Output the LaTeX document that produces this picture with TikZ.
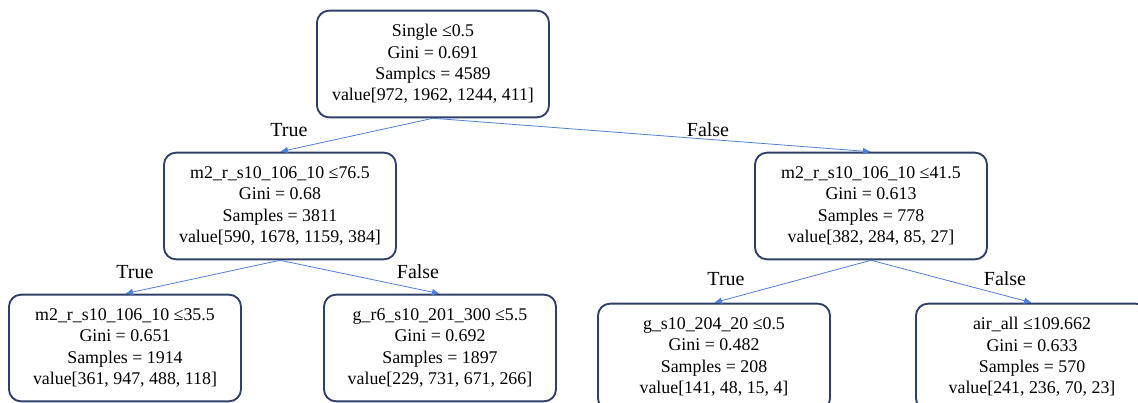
\documentclass[tikz,border=0pt]{standalone}
\usepackage{fontspec}
\setmainfont{Liberation Serif}
\usepackage{xcolor}
\usetikzlibrary{arrows.meta,positioning}
\definecolor{boxline}{HTML}{2F4068}
\definecolor{edgeblue}{HTML}{4F7FD8}
\begin{document}
\begin{tikzpicture}[x=0.75pt, y=-0.75pt,
    split/.style={rectangle, rounded corners=9pt, draw=boxline, line width=1.4pt, fill=white,
        minimum width=174pt, minimum height=80pt, align=center, inner sep=0pt,
        font=\fontsize{13.4}{16}\selectfont},
    lbl/.style={font=\fontsize{15}{18}\selectfont},
    arr/.style={-{Latex[length=6pt, width=5pt]}, line width=0.6pt, edgeblue}
]
    \useasboundingbox (0,0) rectangle (1138,403);
    % root and first split
    \node[split] (root) at (433,64) {Single ≤0.5\\Gini = 0.691\\Samplcs = 4589\\value[972, 1962, 1244, 411]};
    \node[split] (tl) at (280,206) {m2\_r\_s10\_106\_10 ≤76.5\\Gini = 0.68\\Samples = 3811\\value[590, 1678, 1159, 384]};
    \node[split] (tr) at (871,206) {m2\_r\_s10\_106\_10 ≤41.5\\Gini = 0.613\\Samples = 778\\value[382, 284, 85, 27]};
    % second level
    \node[split] (ll) at (125,348) {m2\_r\_s10\_106\_10 ≤35.5\\Gini = 0.651\\Samples = 1914\\value[361, 947, 488, 118]};
    \node[split] (lr) at (440,348) {g\_r6\_s10\_201\_300 ≤5.5\\Gini = 0.692\\Samples = 1897\\value[229, 731, 671, 266]};
    \node[split] (rl) at (714,357) {g\_s10\_204\_20 ≤0.5\\Gini = 0.482\\Samples = 208\\value[141, 48, 15, 4]};
    \node[split] (rr) at (1032,357) {air\_all ≤109.662\\Gini = 0.633\\Samples = 570\\value[241, 236, 70, 23]};
    % edges
    \draw[arr] (root.south) to (tl.north);
    \draw[arr] (root.south) to (tr.north);
    \draw[arr] (tl.south) to (ll.north);
    \draw[arr] (tl.south) to (lr.north);
    \draw[arr] (tr.south) to (rl.north);
    \draw[arr] (tr.south) to (rr.north);
    % edge labels
    \node[lbl] (t1) at (289,130) {True};
    \node[lbl] (f1) at (708,130) {False};
    \node[lbl] (t2) at (135,272) {True};
    \node[lbl] (f2) at (418,272) {False};
    \node[lbl] (t3) at (726,279) {True};
    \node[lbl] (f3) at (1005,279) {False};
\end{tikzpicture}
\end{document}
